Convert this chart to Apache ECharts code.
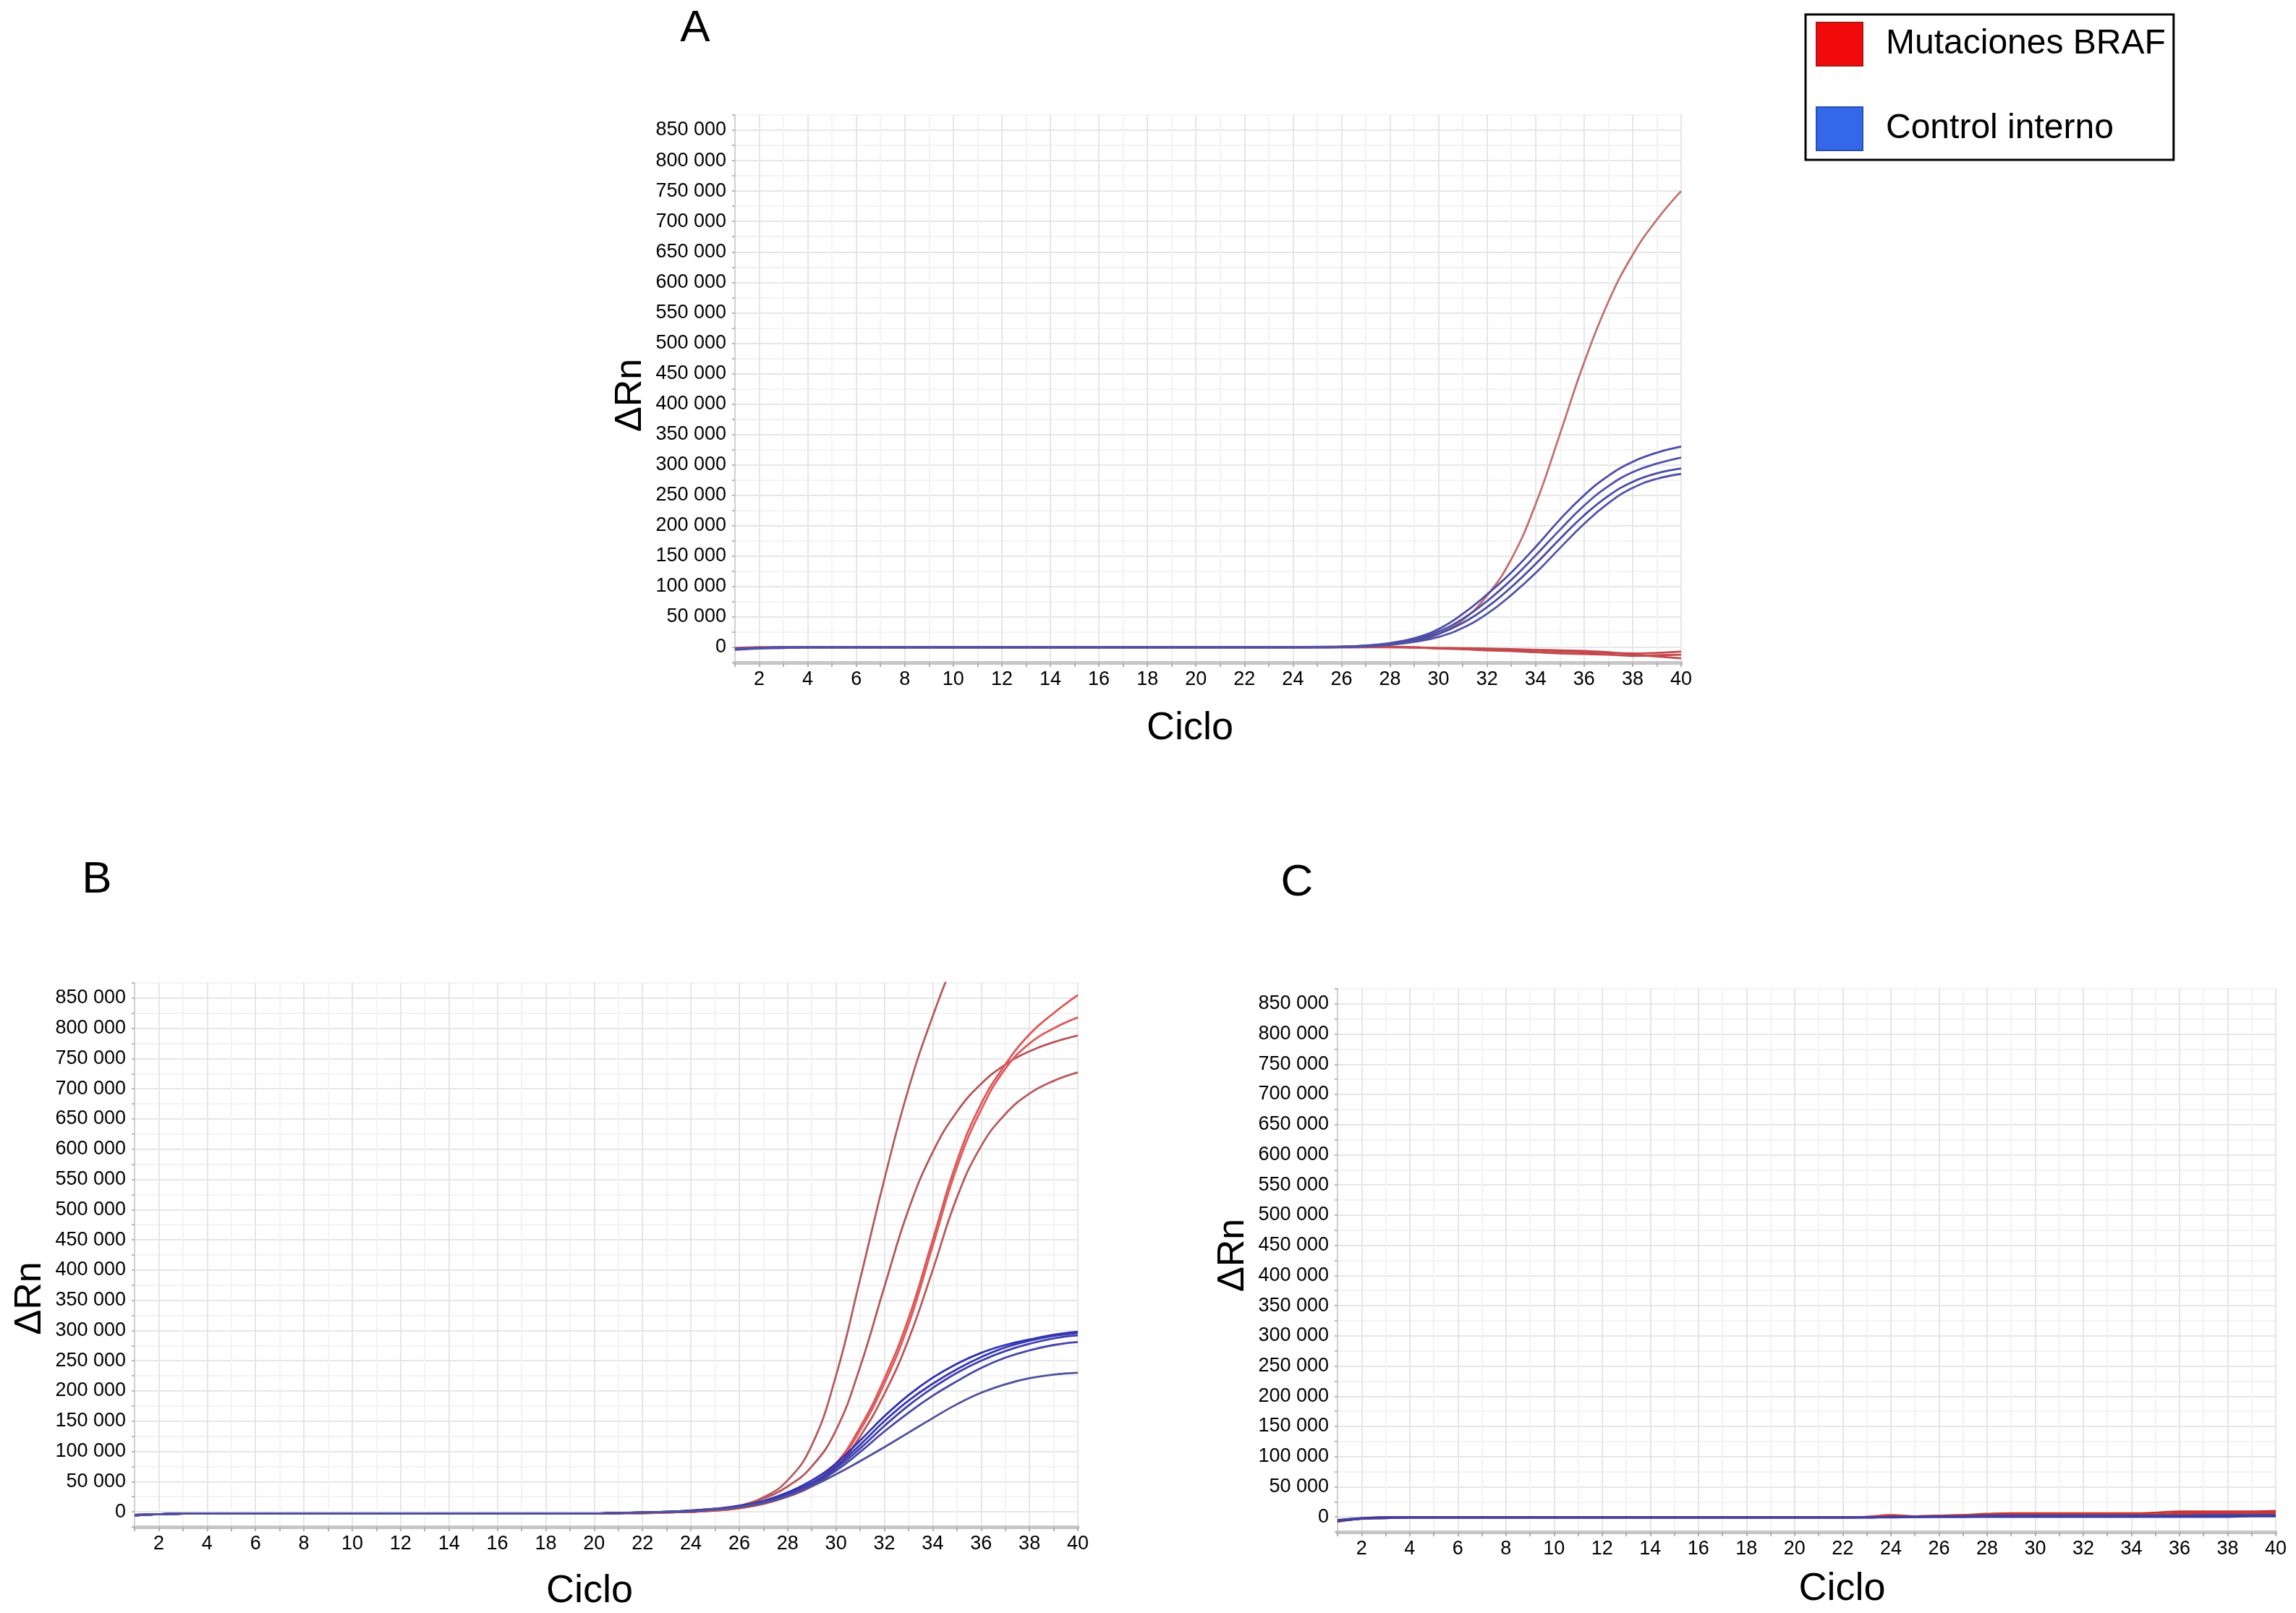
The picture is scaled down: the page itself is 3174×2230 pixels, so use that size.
<!DOCTYPE html>
<html>
<head>
<meta charset="utf-8">
<script src="https://cdn.jsdelivr.net/npm/echarts@6/dist/echarts.min.js"></script>
<style>
html,body{margin:0;padding:0;background:#ffffff;}
#c{width:3174px;height:2230px;}
</style>
</head>
<body>
<div id="c"></div>
<script>
// ---------- DATA ----------
const cycles = [1,2,3,4,5,6,7,8,9,10,11,12,13,14,15,16,17,18,19,20,21,22,23,24,25,26,27,28,29,30,31,32,33,34,35,36,37,38,39,40];
const xTickLabels = ['2','4','6','8','10','12','14','16','18','20','22','24','26','28','30','32','34','36','38','40'];
const yTickValues = [0,50000,100000,150000,200000,250000,300000,350000,400000,450000,500000,550000,600000,650000,700000,750000,800000,850000];
const seriesNames = ['Mutaciones BRAF','Control interno'];
const panelLetters = ['A','B','C'];
const xAxisTitle = 'Ciclo';
const yAxisTitle = 'ΔRn';

// Panel A
const aRed1 = [-3000,-1000,0,0,0,500,0,0,0,0, 0,0,0,0,0,0,0,0,0,0, 0,0,0,500,1000,1500,2500,5000,10000,22000, 45000,85000,145000,235000,350000,468000,568000,645000,703000,750000];
const aRed2 = [-2000,-1000,0,0,0,0,0,0,0,0, 0,0,0,0,0,0,0,0,0,0, 0,0,0,0,0,500,1000,1000,0,-2000, -3000,-5000,-6000,-8000,-10000,-11000,-12000,-14000,-13000,-12000];
const aRed3 = [-2000,0,0,0,0,0,0,0,0,0, 0,0,0,0,0,0,0,0,0,0, 0,0,0,0,0,0,500,500,0,-1000, -2000,-3000,-4000,-5000,-7000,-8000,-9000,-10000,-9000,-7000];
const aRed4 = [-1000,0,0,0,0,0,0,0,0,0, 0,0,0,0,0,0,0,0,0,0, 0,0,0,0,0,0,0,0,-500,-1000, -1500,-2000,-3000,-4000,-5000,-6000,-8000,-12000,-15000,-18000];
const aBlue1 = [-4000,-2000,-1000,0,0,0,0,0,0,0, 0,0,0,0,0,0,0,0,0,0, 0,0,0,0,500,1000,3000,7000,15000,30000, 55000,87000,123000,165000,210000,250000,282000,305000,320000,330000];
const aBlue2 = [-3000,-1000,0,0,0,0,0,0,0,0, 0,0,0,0,0,0,0,0,0,0, 0,0,0,0,500,1000,2500,6000,13000,26000, 47000,76000,111000,151000,193000,233000,265000,288000,302000,312000];
const aBlue3 = [-3000,-1000,0,0,0,0,0,0,0,0, 0,0,0,0,0,0,0,0,0,0, 0,0,0,0,0,500,2000,5000,11000,22000, 40000,66000,99000,137000,178000,217000,249000,272000,286000,294000];
const aBlue4 = [-2000,-1000,0,0,0,0,0,0,0,0, 0,0,0,0,0,0,0,0,0,0, 0,0,0,0,0,500,1500,4000,9000,17000, 32000,55000,86000,122000,163000,203000,237000,262000,277000,285000];

// Panel B
const bRed1 = [-6000,-4000,-3000,-3000,-3000,-3000,-3000,-3000,-3000,-3000, -3000,-3000,-3000,-3000,-3000,-3000,-3000,-3000,-3000,-3000, -2000,-2000,-1000,1000,4000,10000,24000,52000,110000,225000, 385000,550000,700000,820000,920000,1000000,1060000,1100000,1130000,1150000];
const bRed2 = [-6000,-4000,-3000,-3000,-3000,-3000,-3000,-3000,-3000,-3000, -3000,-3000,-3000,-3000,-3000,-3000,-3000,-3000,-3000,-3000, -2000,-2000,-1000,0,3000,10000,22000,42000,75000,135000, 240000,372000,500000,595000,662000,708000,740000,762000,777000,788000];
const bRed3 = [-5000,-4000,-3000,-3000,-3000,-3000,-3000,-3000,-3000,-3000, -3000,-3000,-3000,-3000,-3000,-3000,-3000,-3000,-3000,-3000, -2000,-2000,-1000,0,2000,6000,14000,27000,47000,80000, 140000,220000,320000,450000,580000,675000,740000,790000,825000,855000];
const bRed4 = [-5000,-4000,-3000,-3000,-3000,-3000,-3000,-3000,-3000,-3000, -3000,-3000,-3000,-3000,-3000,-3000,-3000,-3000,-3000,-3000, -2000,-2000,-1000,0,2000,6000,13000,26000,45000,77000, 135000,212000,310000,440000,570000,665000,733000,775000,800000,818000];
const bRed5 = [-5000,-4000,-3000,-3000,-3000,-3000,-3000,-3000,-3000,-3000, -3000,-3000,-3000,-3000,-3000,-3000,-3000,-3000,-3000,-3000, -2000,-2000,-1000,0,2000,6000,13000,25000,42000,72000, 125000,195000,285000,400000,520000,605000,658000,692000,713000,727000];
const bBlue1 = [-6000,-4000,-3000,-3000,-3000,-3000,-3000,-3000,-3000,-3000, -3000,-3000,-3000,-3000,-3000,-3000,-3000,-3000,-3000,-3000, -2000,-1000,0,2000,5000,10000,18000,32000,52000,80000, 118000,158000,193000,222000,245000,263000,276000,285000,293000,298000];
const bBlue2 = [-6000,-4000,-3000,-3000,-3000,-3000,-3000,-3000,-3000,-3000, -3000,-3000,-3000,-3000,-3000,-3000,-3000,-3000,-3000,-3000, -2000,-1000,0,2000,5000,9000,17000,30000,48000,75000, 111000,150000,184000,212000,236000,256000,272000,283000,291000,296000];
const bBlue3 = [-5000,-4000,-3000,-3000,-3000,-3000,-3000,-3000,-3000,-3000, -3000,-3000,-3000,-3000,-3000,-3000,-3000,-3000,-3000,-3000, -2000,-1000,0,1000,4000,8000,16000,28000,46000,72000, 105000,142000,176000,205000,230000,250000,266000,278000,287000,292000];
const bBlue4 = [-5000,-4000,-3000,-3000,-3000,-3000,-3000,-3000,-3000,-3000, -3000,-3000,-3000,-3000,-3000,-3000,-3000,-3000,-3000,-3000, -2000,-1000,0,1000,4000,8000,15000,26000,44000,68000, 99000,133000,164000,192000,216000,238000,255000,267000,276000,281000];
const bBlue5 = [-5000,-4000,-3000,-3000,-3000,-3000,-3000,-3000,-3000,-3000, -3000,-3000,-3000,-3000,-3000,-3000,-3000,-3000,-3000,-3000, -2000,-1000,0,1000,4000,8000,15000,26000,42000,62000, 84000,107000,131000,155000,178000,197000,211000,221000,227000,230000];

// Panel C
const cRed1 = [-8000,-3000,-2000,-1000,-1000,-1000,-1000,-1000,-1000,-1000, -1000,-1000,-1000,-1000,-1000,-1000,-1000,-1000,-1000,-1000, -1000,-1000,0,1000,1000,2000,3000,5000,6000,6000, 6000,6000,6000,6000,7000,9000,9000,9000,9000,10000];
const cRed2 = [-6000,-2000,-1000,-1000,-1000,-1000,-1000,-1000,-1000,-1000, -1000,-1000,-1000,-1000,-1000,-1000,-1000,-1000,-1000,-1000, -1000,-1000,0,3000,1000,2000,3000,4000,4000,4000, 4000,4000,4000,4000,4000,6000,6000,6000,7000,7000];
const cRed3 = [-7000,-3000,-1000,-1000,-1000,-1000,-1000,-1000,-1000,-1000, -1000,-1000,-1000,-1000,-1000,-1000,-1000,-1000,-1000,-1000, -1000,-1000,-1000,0,0,1000,2000,3000,3000,3000, 3000,3000,3000,3000,3000,4000,4000,4000,5000,5000];
const cBlue1 = [-7000,-3000,-1000,-1000,-1000,-1000,-1000,-1000,-1000,-1000, -1000,-1000,-1000,-1000,-1000,-1000,-1000,-1000,-1000,-1000, -1000,-1000,-1000,0,0,0,0,1000,1000,1000, 1000,1000,1000,1000,1000,1000,1000,2000,2000,2000];
const cBlue2 = [-5000,-2000,-1000,-1000,-1000,-1000,-1000,-1000,-1000,-1000, -1000,-1000,-1000,-1000,-1000,-1000,-1000,-1000,-1000,-1000, -1000,-1000,-1000,-1000,0,0,0,0,0,0, 0,0,0,0,0,0,0,0,1000,1000];
const cBlue3 = [-6000,-3000,-2000,-1000,-1000,-1000,-1000,-1000,-1000,-1000, -1000,-1000,-1000,-1000,-1000,-1000,-1000,-1000,-1000,-1000, -1000,-1000,-1000,0,0,1000,1000,2000,2000,2000, 2000,2000,2000,2000,2000,2000,3000,3000,3000,3000];

const panelRed = [[aRed1,aRed2,aRed3,aRed4],[bRed1,bRed2,bRed3,bRed4,bRed5],[cRed1,cRed2,cRed3]];
const panelBlue = [[aBlue1,aBlue2,aBlue3,aBlue4],[bBlue1,bBlue2,bBlue3,bBlue4,bBlue5],[cBlue1,cBlue2,cBlue3]];

// ---------- LAYOUT / STYLE ----------
const FONT = 'Liberation Sans, Arial, Helvetica, sans-serif';
const grids = [
  {left:1016, top:159, width:1308, height:757},
  {left:186, top:1359, width:1304, height:752},
  {left:1849, top:1367, width:1297, height:751}
];
const letterPos = [[961,40],[134,1217],[1793,1221]];
const yNamePad = [[0,18,0,0],[0,120,0,0],[0,0,0,14]];
const xNamePad = [[0,50,0,0],[0,46,0,0],[0,0,0,98]];
const xNameGap = [64,62,52];
const redColors = [['#c27070','#c4484e','#c8464c','#c04a50'],['#b45c60','#b4585c','#e05658','#de5c5e','#b85a5e'],['#c83030','#cc3838','#b84048']];
const blueColors = [['#4c4ca8','#5050aa','#4a4aa4','#5252a8'],['#3030b0','#3838b4','#4040ac','#4646a8','#50509e'],['#3030a0','#3838a8','#4040a0']];

function fmtThousands(v){
  const s = String(v);
  return s.replace(/\B(?=(\d{3})+(?!\d))/g,' ');
}

const xAxes = [], yAxes = [], series = [], graphics = [];
for (let p = 0; p < 3; p++) {
  xAxes.push({
    type:'value', gridIndex:p, min:1, max:40, interval:1,
    name:xAxisTitle, nameLocation:'middle', nameGap:xNameGap[p],
    nameTextStyle:{fontSize:54, fontFamily:FONT, color:'#000', padding:xNamePad[p]},
    axisLine:{show:true, onZero:false, lineStyle:{color:'#c6c6c6', width:5}},
    axisTick:{show:true, length:6, lineStyle:{color:'#b0b0b0', width:2}},
    axisLabel:{fontSize:27, fontFamily:FONT, color:'#000', margin:10, showMinLabel:true, showMaxLabel:true,
      formatter:(v)=> xTickLabels.indexOf(String(v))>=0 ? String(v) : ''},
    splitLine:{show:true, lineStyle:{color:['#f3f3f3','#e6e6e6'], width:2}}
  });
  yAxes.push({
    type:'value', gridIndex:p, min:-25000, max:875000, interval:25000,
    name:yAxisTitle, nameLocation:'middle', nameGap:118, nameRotate:90,
    nameTextStyle:{fontSize:52, fontFamily:FONT, color:'#000', padding:yNamePad[p]},
    axisLine:{show:true, lineStyle:{color:'#d0d0d0', width:2}},
    axisTick:{show:true, length:4, lineStyle:{color:'#b8b8b8', width:2}},
    axisLabel:{fontSize:27, fontFamily:FONT, color:'#000', margin:12,
      formatter:(v)=> yTickValues.indexOf(v)>=0 ? fmtThousands(v) : ''},
    splitLine:{show:true, lineStyle:{color:['#f3f3f3','#e6e6e6'], width:2}}
  });
  panelRed[p].forEach((arr,i)=>{
    series.push({type:'line', name:seriesNames[0], xAxisIndex:p, yAxisIndex:p,
      data:cycles.map((c,k)=>[c,arr[k]]), showSymbol:false, smooth:0.45, clip:true,
      color:redColors[p][i], lineStyle:{width:2.8, color:redColors[p][i]}, z:2});
  });
  panelBlue[p].forEach((arr,i)=>{
    series.push({type:'line', name:seriesNames[1], xAxisIndex:p, yAxisIndex:p,
      data:cycles.map((c,k)=>[c,arr[k]]), showSymbol:false, smooth:0.45, clip:true,
      color:blueColors[p][i], lineStyle:{width:2.8, color:blueColors[p][i]}, z:3});
  });
  graphics.push({type:'text', x:letterPos[p][0], y:letterPos[p][1],
    style:{text:panelLetters[p], fontSize:62, fontFamily:FONT, fill:'#000', align:'center', verticalAlign:'middle'}});
}

const chart = echarts.init(document.getElementById('c'), null, {renderer:'canvas'});
chart.setOption({
  backgroundColor:'#ffffff',
  animation:false,
  grid: grids.map(g=>Object.assign({show:true, borderColor:'#d2d2d2', borderWidth:2, backgroundColor:'#ffffff', containLabel:false}, g)),
  xAxis: xAxes,
  yAxis: yAxes,
  legend:{
    show:true, orient:'vertical', left:2496, top:20,
    borderColor:'#000', borderWidth:3, padding:[10,11,12,14],
    itemWidth:64, itemHeight:60, itemGap:55, icon:'rect',
    selectedMode:false,
    textStyle:{fontSize:48, fontFamily:FONT, color:'#000', padding:[0,0,0,27]},
    data:[
      {name:seriesNames[0], icon:'rect', itemStyle:{color:'#f20a0a', borderColor:'#a81818', borderWidth:2}},
      {name:seriesNames[1], icon:'rect', itemStyle:{color:'#3567ea', borderColor:'#2a4fb0', borderWidth:2}}
    ]
  },
  graphic: graphics,
  series: series
});
</script>
</body>
</html>
